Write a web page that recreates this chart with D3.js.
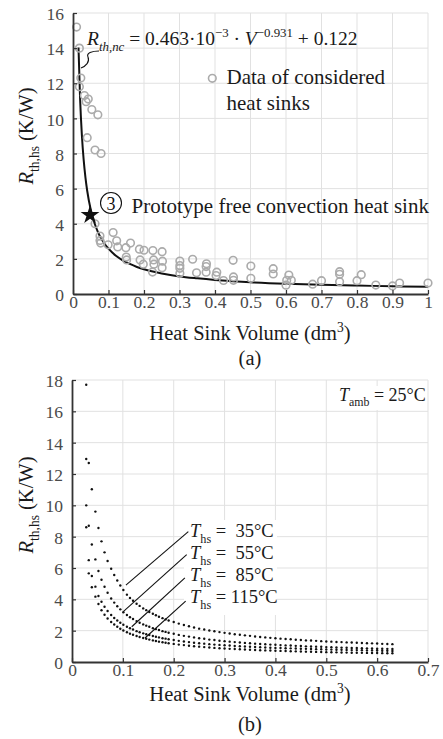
<!DOCTYPE html>
<html><head><meta charset="utf-8">
<script src="https://cdn.jsdelivr.net/npm/d3@7"></script>
<style>body{margin:0;background:#fff}text{font-family:"Liberation Serif","Times New Roman",serif;white-space:pre}</style>
</head><body><svg id="c" width="443" height="739"></svg>
<script>
// ---------- data (a) ----------
const xTicksA = [0,0.1,0.2,0.3,0.4,0.5,0.6,0.7,0.8,0.9,1];
const yTicksA = [0,2,4,6,8,10,12,14,16];
const sinkVol = [0.010,0.018,0.022,0.018,0.032,0.043,0.037,0.053,0.070,0.040,0.062,0.079,0.062,0.076,0.076,0.078,0.113,0.099,0.123,0.126,0.149,0.162,0.150,0.151,0.187,0.200,0.189,0.198,0.225,0.251,0.227,0.228,0.252,0.251,0.224,0.301,0.301,0.301,0.301,0.337,0.348,0.376,0.375,0.375,0.405,0.403,0.424,0.451,0.452,0.452,0.501,0.501,0.564,0.564,0.608,0.602,0.600,0.615,0.675,0.700,0.751,0.751,0.751,0.800,0.812,0.853,0.900,0.920,1.000];
const sinkRth = [15.2,14.0,12.3,11.8,11.3,11.1,10.95,10.5,10.2,8.9,8.2,8.0,4.0,3.3,3.05,2.9,3.5,2.8,3.03,2.68,2.64,2.9,2.1,1.94,2.55,2.49,1.94,1.7,2.47,2.41,1.94,1.7,1.87,1.5,1.25,1.88,1.62,1.46,1.18,1.98,1.21,1.72,1.56,1.24,1.24,1.05,0.77,1.92,0.97,0.78,1.59,0.89,1.44,1.14,1.08,0.78,0.5,0.78,0.56,0.76,1.27,1.12,0.70,0.76,1.1,0.51,0.46,0.62,0.62];
const fitVol = [0.0155,0.02,0.025,0.03,0.035,0.04,0.05,0.06,0.07,0.08,0.09,0.10,0.12,0.14,0.16,0.18,0.20,0.25,0.30,0.35,0.40,0.45,0.50,0.60,0.70,0.80,0.90,1.00];
const fitRth = [14.04,11.10,9.04,7.65,6.64,5.88,4.80,4.07,3.54,3.14,2.83,2.58,2.19,1.92,1.71,1.54,1.41,1.17,1.00,0.89,0.80,0.73,0.67,0.58,0.52,0.48,0.44,0.41];
const protoVol = 0.048, protoRth = 4.5;

// ---------- data (b) ----------
const xTicksB = [0,0.1,0.2,0.3,0.4,0.5,0.6,0.7];
const yTicksB = [0,2,4,6,8,10,12,14,16,18];
const volB = [0.028,0.033,0.039,0.046,0.052,0.058,0.064,0.070,0.077,0.083,0.089,0.095,0.101,0.108,0.114,0.120,0.127,0.133,0.140,0.146,0.152,0.159,0.165,0.171,0.178,0.184,0.190,0.20,0.21,0.22,0.23,0.24,0.25,0.26,0.27,0.28,0.29,0.30,0.31,0.32,0.33,0.34,0.35,0.36,0.37,0.38,0.39,0.40,0.41,0.42,0.43,0.44,0.45,0.46,0.47,0.48,0.49,0.50,0.51,0.52,0.53,0.54,0.55,0.56,0.57,0.58,0.59,0.60,0.61,0.62,0.63];
const r35 = [17.7,12.7,11.03,9.6,8.55,7.7,7.0,6.45,5.95,5.55,5.2,4.88,4.6,4.30,4.09,3.91,3.72,3.58,3.42,3.31,3.19,3.08,2.98,2.89,2.80,2.72,2.65,2.55,2.45,2.36,2.28,2.20,2.13,2.07,2.01,1.96,1.91,1.86,1.82,1.77,1.74,1.70,1.67,1.63,1.60,1.57,1.54,1.52,1.49,1.47,1.45,1.42,1.40,1.38,1.37,1.35,1.33,1.31,1.30,1.28,1.27,1.25,1.24,1.23,1.21,1.20,1.19,1.18,1.16,1.15,1.14];
const r55 = [12.96,8.7,7.5,6.55,5.81,5.25,4.80,4.42,4.05,3.79,3.56,3.36,3.18,3.00,2.86,2.74,2.61,2.51,2.40,2.32,2.25,2.16,2.10,2.04,1.97,1.92,1.87,1.80,1.73,1.67,1.62,1.57,1.52,1.48,1.43,1.40,1.36,1.33,1.30,1.27,1.24,1.22,1.20,1.17,1.15,1.13,1.11,1.10,1.08,1.06,1.05,1.03,1.02,1.00,0.99,0.98,0.97,0.95,0.94,0.93,0.92,0.91,0.90,0.89,0.88,0.87,0.86,0.85,0.85,0.84,0.83];
const r85 = [10.0,6.5,5.49,4.81,4.21,3.85,3.53,3.26,3.00,2.81,2.65,2.51,2.38,2.25,2.15,2.07,1.97,1.90,1.83,1.77,1.72,1.66,1.61,1.57,1.52,1.49,1.45,1.40,1.35,1.31,1.27,1.23,1.20,1.17,1.14,1.11,1.09,1.07,1.05,1.02,1.01,0.99,0.97,0.96,0.94,0.93,0.91,0.90,0.89,0.88,0.87,0.86,0.85,0.84,0.83,0.82,0.81,0.80,0.79,0.78,0.78,0.77,0.76,0.76,0.75,0.74,0.74,0.73,0.72,0.72,0.71];
const r115 = [8.6,5.66,4.77,4.17,3.7,3.30,3.02,2.78,2.55,2.39,2.25,2.12,2.01,1.90,1.81,1.74,1.66,1.60,1.53,1.48,1.43,1.38,1.34,1.30,1.26,1.23,1.20,1.155,1.11,1.08,1.04,1.01,0.98,0.95,0.93,0.90,0.88,0.86,0.84,0.83,0.81,0.80,0.78,0.77,0.75,0.74,0.73,0.72,0.71,0.70,0.69,0.68,0.67,0.66,0.655,0.645,0.64,0.63,0.62,0.615,0.61,0.60,0.595,0.59,0.585,0.58,0.575,0.57,0.565,0.56,0.555];
const seriesB = [r35, r55, r85, r115];
const seriesLabels = [" =  35°C"," =  55°C"," =  85°C"," = 115°C"];
// leader line anchors [curve V, curve R, label V, label R]
const leaders = [[0.106,4.91,0.2287,8.32],[0.1008,3.21,0.2255,6.85],[0.1175,2.25,0.222,5.37],[0.1435,1.53,0.2235,3.88]];

// ---------- drawing ----------
const FONT = '"Liberation Serif","Times New Roman",serif';
const svg = d3.select('#c').attr('font-family',FONT);
svg.append('rect').attr('width',443).attr('height',739).attr('fill','#fff');
const GRID='#e1e1e1', AX='#333', TICK='#4a4a4a';

function rich(sel, x, y, parts, fs, anchor){
  const t = sel.append('text').attr('x',x).attr('y',y).attr('font-size',fs).attr('font-family',FONT)
    .attr('text-anchor',anchor||'start').attr('fill','#1a1a1a');
  let cur=0;
  parts.forEach(([txt,st])=>{
    st = st||'';
    let shift=0,size=fs;
    if(st.includes('sub')){shift=fs*0.3;size=fs*0.66;}
    if(st.includes('sup')){shift=-fs*0.4;size=fs*0.66;}
    t.append('tspan').attr('dy',shift-cur).attr('font-size',size)
      .attr('font-style',st.startsWith('i')?'italic':'normal').text(txt);
    cur=shift;
  });
  return t;
}

function frame(x,y,xt,yt){
  const g = svg.append('g');
  const [x0,x1]=x.range(), [y0,y1]=y.range();
  g.selectAll('.gx').data(xt.slice(1)).join('line').attr('x1',d=>x(d)).attr('x2',d=>x(d))
    .attr('y1',y0).attr('y2',y1).attr('stroke',GRID).attr('stroke-width',1);
  g.selectAll('.gy').data(yt.slice(1)).join('line').attr('y1',d=>y(d)).attr('y2',d=>y(d))
    .attr('x1',x0).attr('x2',x1).attr('stroke',GRID).attr('stroke-width',1);
  return g;
}
function axes(x,y,xt,yt){
  const fmt=d3.format('~g');
  const ax = svg.append('g').attr('transform',`translate(0,${y.range()[0]})`)
    .call(d3.axisBottom(x).tickValues(xt).tickFormat(fmt).tickSize(-4).tickSizeOuter(0).tickPadding(2));
  const ay = svg.append('g').attr('transform',`translate(${x.range()[0]},0)`)
    .call(d3.axisLeft(y).tickValues(yt).tickFormat(fmt).tickSize(-4).tickSizeOuter(0).tickPadding(9));
  [ax,ay].forEach(a=>{
    a.attr('font-family',FONT);
    a.select('.domain').attr('stroke',AX).attr('stroke-width',1.8);
    a.selectAll('.tick line').attr('stroke',AX).attr('stroke-width',1.2);
    a.selectAll('.tick text').attr('fill',TICK).attr('font-size',17.5).attr('font-family',FONT);
  });
  ay.selectAll('.tick text').attr('dy','0.38em');
}

// ===== (a) =====
const xA = d3.scaleLinear().domain([0,1]).range([73,428]);
const yA = d3.scaleLinear().domain([0,16]).range([294,13]);
frame(xA,yA,xTicksA,yTicksA);

const fitLine = d3.line().x((d,i)=>xA(fitVol[i])).y((d,i)=>yA(fitRth[i])).curve(d3.curveMonotoneX);
svg.append('path').datum(fitVol).attr('d',fitLine).attr('fill','none').attr('stroke','#111').attr('stroke-width',2);

svg.append('g').selectAll('circle').data(sinkVol).join('circle')
  .attr('cx',(d,i)=>xA(d)).attr('cy',(d,i)=>yA(sinkRth[i])).attr('r',3.8)
  .attr('fill','none').attr('stroke','#ababab').attr('stroke-width',1.6);

svg.append('path').attr('d',d3.symbol(d3.symbolStar).size(110)())
  .attr('transform',`translate(${xA(protoVol)},${yA(protoRth)})`).attr('fill','#111');

axes(xA,yA,xTicksA,yTicksA);

// formula
rich(svg, 87, 45, [["R","i"],["th,nc","isub"],[" = 0.463·10",""],["−3","sup"],[" · ",""],["V","i"],["−0.931","sup"],[" + 0.122",""]], 19.5);
svg.append('path').attr('d','M99,51 C92,51 86,53 88,57 C90,62 86,66 81,68')
  .attr('fill','none').attr('stroke','#111').attr('stroke-width',1.1);
// legend
svg.append('circle').attr('cx',212.3).attr('cy',78.3).attr('r',3.8).attr('fill','none').attr('stroke','#ababab').attr('stroke-width',1.6);
rich(svg,226.5,84,[["Data of considered",""]],21);
rich(svg,226.5,109.5,[["heat sinks",""]],21);
// prototype label
svg.append('circle').attr('cx',111).attr('cy',203).attr('r',10.5).attr('fill','#fff').attr('stroke','#111').attr('stroke-width',1.1);
svg.append('text').attr('x',111).attr('y',209.5).attr('text-anchor','middle').attr('font-size',18).attr('font-family',FONT).attr('fill','#111').text('3');
rich(svg,131.5,213,[["Prototype free convection heat sink",""]],21);
// labels
rich(svg,250,340,[["Heat Sink Volume (dm",""],["3","sup"],[")",""]],20.5,'middle');
rich(svg,250,365,[["(a)",""]],20.5,'middle');
rich(svg.append('g').attr('transform','translate(33,136) rotate(-90)'),0,0,[["R","i"],["th,hs","sub"],[" (K/W)",""]],20.5,'middle');

// ===== (b) =====
const xB = d3.scaleLinear().domain([0,0.7]).range([72,428]);
const yB = d3.scaleLinear().domain([0,18]).range([662,380]);
frame(xB,yB,xTicksB,yTicksB);

seriesB.forEach(s=>{
  svg.append('g').selectAll('circle').data(s).join('circle')
    .attr('cx',(d,i)=>xB(volB[i])).attr('cy',d=>yB(d)).attr('r',1.2).attr('fill','#111');
});

// label boxes
svg.append('rect').attr('x',184).attr('y',520).attr('width',93).attr('height',95).attr('fill','#fff');
svg.append('rect').attr('x',336).attr('y',386).attr('width',91).attr('height',24).attr('fill','#fff');

leaders.forEach(l=>{
  svg.append('line').attr('x1',xB(l[0])).attr('y1',yB(l[1])).attr('x2',xB(l[2])).attr('y2',yB(l[3]))
    .attr('stroke','#111').attr('stroke-width',1.1);
});
seriesLabels.forEach((s,i)=>{
  rich(svg,190,537+22*i,[["T","i"],["hs","sub"],[s,""]],18.5);
});
rich(svg,339,401,[["T","i"],["amb","sub"],[" = 25°C",""]],18);

axes(xB,yB,xTicksB,yTicksB);

rich(svg,250,701,[["Heat Sink Volume (dm",""],["3","sup"],[")",""]],20.5,'middle');
rich(svg,250,731,[["(b)",""]],20.5,'middle');
rich(svg.append('g').attr('transform','translate(33,505) rotate(-90)'),0,0,[["R","i"],["th,hs","sub"],[" (K/W)",""]],20.5,'middle');
</script></body></html>
